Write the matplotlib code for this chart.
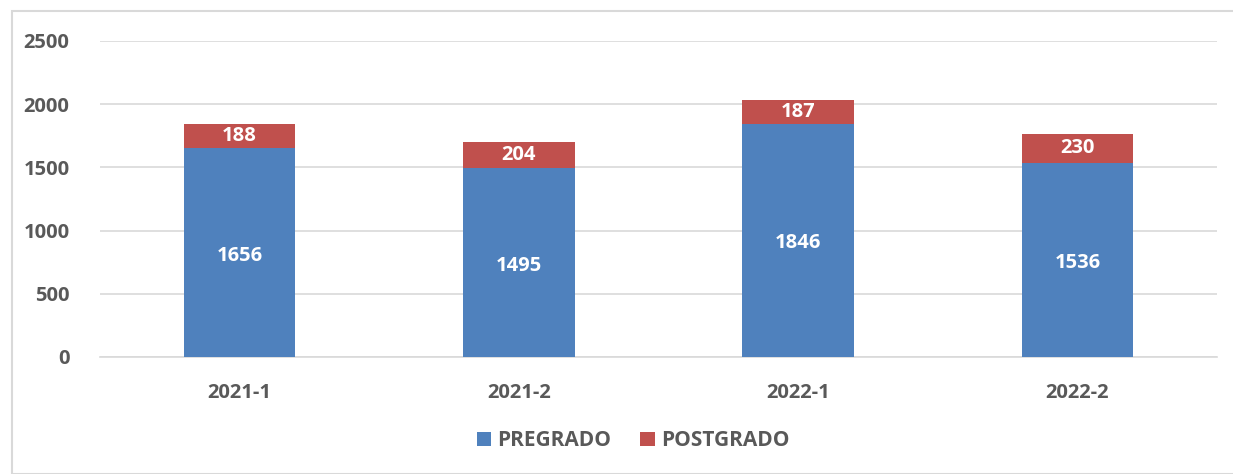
import numpy as np
import matplotlib.pyplot as plt
from matplotlib.patches import Rectangle

# datos
periodos = ['2021-1', '2021-2', '2022-1', '2022-2']
pregrado = [1656, 1495, 1846, 1536]
postgrado = [188, 204, 187, 230]

plt.rcParams['font.family'] = ['Open Sans', 'DejaVu Sans']
gris = '#595959'
tam = 14.5

fig = plt.figure(figsize=(12.33, 4.74), dpi=100)
ax = fig.add_axes([100 / 1233, 117 / 474, 1117 / 1233, 316 / 474])

x = np.arange(len(periodos))
b1 = ax.bar(x, pregrado, width=0.4, color='#4F81BD', label='PREGRADO', zorder=3)
b2 = ax.bar(x, postgrado, width=0.4, bottom=pregrado, color='#C0504D', label='POSTGRADO', zorder=3)

# etiquetas dentro de las barras
for i in range(len(x)):
    ax.text(x[i], pregrado[i] / 2 - 25, str(pregrado[i]), ha='center', va='center',
            color='white', fontsize=tam, fontweight='bold', zorder=4)
    ax.text(x[i], pregrado[i] + postgrado[i] / 2, str(postgrado[i]), ha='center', va='center',
            color='white', fontsize=tam, fontweight='bold', zorder=4)

ax.set_xlim(-0.5, 3.5)
ax.set_ylim(0, 2500)
ax.set_yticks([0, 500, 1000, 1500, 2000, 2500])
ax.set_xticks(x)
ax.set_xticklabels(periodos)
ax.grid(True, axis='y', color='#D9D9D9', linewidth=1.2, zorder=0)
for s in ['top', 'right', 'left']:
    ax.spines[s].set_visible(False)
ax.spines['bottom'].set_color('#D9D9D9')
ax.spines['bottom'].set_linewidth(1.2)
ax.tick_params(length=0, labelsize=tam, labelcolor=gris, pad=19)
ax.tick_params(axis='y', pad=22)
for t in ax.get_xticklabels() + ax.get_yticklabels():
    t.set_fontweight('bold')

leg = fig.legend(handles=[b1, b2], loc='center', bbox_to_anchor=(633 / 1233, 1 - 441 / 474), ncol=2,
                 frameon=False, handlelength=0.68, handleheight=0.68, columnspacing=1.4,
                 handletextpad=0.3, prop={'size': 15, 'weight': 'bold'})
for t in leg.get_texts():
    t.set_color(gris)

# borde del grafico
fig.patches.append(Rectangle((12 / 1233, 0), 1.1, 1 - 11 / 474, transform=fig.transFigure,
                             fill=False, edgecolor='#D9D9D9', linewidth=1.5))

plt.savefig('out.png', dpi=100)
